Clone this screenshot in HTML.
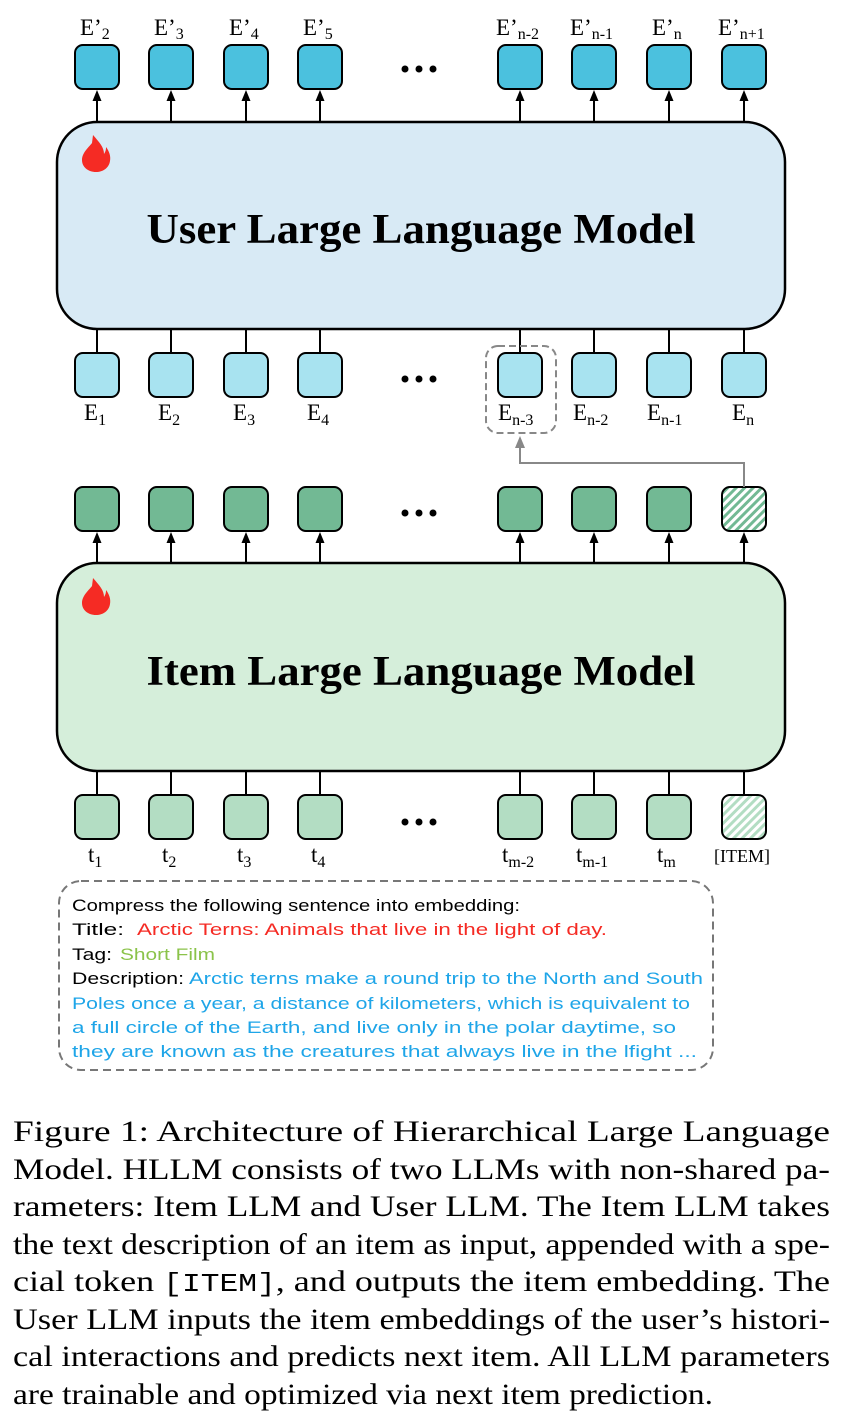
<!DOCTYPE html>
<html><head><meta charset="utf-8"><style>
html,body{margin:0;padding:0;background:#fff;}
svg{display:block;}
</style></head><body>
<svg width="851" height="1424" viewBox="0 0 851 1424" xmlns="http://www.w3.org/2000/svg">
<defs>
<pattern id="h1" patternUnits="userSpaceOnUse" width="6" height="6" patternTransform="rotate(45)">
<rect width="6" height="6" fill="#fff"/><rect width="3" height="6" fill="#72b994"/>
</pattern>
<pattern id="h2" patternUnits="userSpaceOnUse" width="6" height="6" patternTransform="rotate(45)">
<rect width="6" height="6" fill="#fff"/><rect width="3" height="6" fill="#b3ddc3"/>
</pattern>
<path id="tri" d="M-4.5,11 L0,0 L4.5,11 Z"/>
</defs>

<rect x="57" y="122" width="728" height="207" rx="40" fill="#d8eaf5" stroke="#000" stroke-width="2.5"/>
<text x="421" y="243" font-family="Liberation Serif, serif" font-weight="bold" font-size="42" text-anchor="middle" textLength="549" lengthAdjust="spacingAndGlyphs">User Large Language Model</text>
<path d="M93,135 C99,142 104,147 104,154 C106,151 106,149 106,147 C109,151 111,156 110,161 C109,168 103,172 96,172 C88,172 82,167 82,160 C82,153 88,148 92,143 Z" fill="#f52b24"/>

<rect x="57" y="563" width="728" height="208" rx="40" fill="#d5eeda" stroke="#000" stroke-width="2.5"/>
<text x="421" y="685" font-family="Liberation Serif, serif" font-weight="bold" font-size="42" text-anchor="middle" textLength="549" lengthAdjust="spacingAndGlyphs">Item Large Language Model</text>
<path d="M93,578 C99,585 104,590 104,597 C106,594 106,592 106,590 C109,594 111,599 110,604 C109,611 103,615 96,615 C88,615 82,610 82,603 C82,596 88,591 92,586 Z" fill="#f52b24"/>

<g stroke="#000" stroke-width="2">
<line x1="97" y1="121" x2="97" y2="98"/>
<line x1="171" y1="121" x2="171" y2="98"/>
<line x1="246" y1="121" x2="246" y2="98"/>
<line x1="320" y1="121" x2="320" y2="98"/>
<line x1="520" y1="121" x2="520" y2="98"/>
<line x1="594" y1="121" x2="594" y2="98"/>
<line x1="669" y1="121" x2="669" y2="98"/>
<line x1="744" y1="121" x2="744" y2="98"/>
<line x1="97" y1="329" x2="97" y2="353"/>
<line x1="171" y1="329" x2="171" y2="353"/>
<line x1="246" y1="329" x2="246" y2="353"/>
<line x1="320" y1="329" x2="320" y2="353"/>
<line x1="520" y1="329" x2="520" y2="353"/>
<line x1="594" y1="329" x2="594" y2="353"/>
<line x1="669" y1="329" x2="669" y2="353"/>
<line x1="744" y1="329" x2="744" y2="353"/>
<line x1="97" y1="562" x2="97" y2="540"/>
<line x1="171" y1="562" x2="171" y2="540"/>
<line x1="246" y1="562" x2="246" y2="540"/>
<line x1="320" y1="562" x2="320" y2="540"/>
<line x1="520" y1="562" x2="520" y2="540"/>
<line x1="594" y1="562" x2="594" y2="540"/>
<line x1="669" y1="562" x2="669" y2="540"/>
<line x1="744" y1="562" x2="744" y2="540"/>
<line x1="97" y1="771" x2="97" y2="795"/>
<line x1="171" y1="771" x2="171" y2="795"/>
<line x1="246" y1="771" x2="246" y2="795"/>
<line x1="320" y1="771" x2="320" y2="795"/>
<line x1="520" y1="771" x2="520" y2="795"/>
<line x1="594" y1="771" x2="594" y2="795"/>
<line x1="669" y1="771" x2="669" y2="795"/>
<line x1="744" y1="771" x2="744" y2="795"/>
</g>
<g fill="#000">
<use href="#tri" x="97" y="90"/><use href="#tri" x="171" y="90"/><use href="#tri" x="246" y="90"/><use href="#tri" x="320" y="90"/>
<use href="#tri" x="520" y="90"/><use href="#tri" x="594" y="90"/><use href="#tri" x="669" y="90"/><use href="#tri" x="744" y="90"/>
<use href="#tri" x="97" y="532"/><use href="#tri" x="171" y="532"/><use href="#tri" x="246" y="532"/><use href="#tri" x="320" y="532"/>
<use href="#tri" x="520" y="532"/><use href="#tri" x="594" y="532"/><use href="#tri" x="669" y="532"/><use href="#tri" x="744" y="532"/>
</g>

<g fill="#4bc1de" stroke="#000" stroke-width="2">
<rect x="75" y="45" width="44" height="44" rx="8"/>
<rect x="149" y="45" width="44" height="44" rx="8"/>
<rect x="224" y="45" width="44" height="44" rx="8"/>
<rect x="298" y="45" width="44" height="44" rx="8"/>
<rect x="498" y="45" width="44" height="44" rx="8"/>
<rect x="572" y="45" width="44" height="44" rx="8"/>
<rect x="647" y="45" width="44" height="44" rx="8"/>
<rect x="722" y="45" width="44" height="44" rx="8"/>
</g>
<g fill="#a8e3f0" stroke="#000" stroke-width="2">
<rect x="75" y="353" width="44" height="44" rx="8"/>
<rect x="149" y="353" width="44" height="44" rx="8"/>
<rect x="224" y="353" width="44" height="44" rx="8"/>
<rect x="298" y="353" width="44" height="44" rx="8"/>
<rect x="498" y="353" width="44" height="44" rx="8"/>
<rect x="572" y="353" width="44" height="44" rx="8"/>
<rect x="647" y="353" width="44" height="44" rx="8"/>
<rect x="722" y="353" width="44" height="44" rx="8"/>
</g>
<g fill="#72b994" stroke="#000" stroke-width="2">
<rect x="75" y="487" width="44" height="44" rx="8"/>
<rect x="149" y="487" width="44" height="44" rx="8"/>
<rect x="224" y="487" width="44" height="44" rx="8"/>
<rect x="298" y="487" width="44" height="44" rx="8"/>
<rect x="498" y="487" width="44" height="44" rx="8"/>
<rect x="572" y="487" width="44" height="44" rx="8"/>
<rect x="647" y="487" width="44" height="44" rx="8"/>
<rect x="722" y="487" width="44" height="44" rx="8" fill="url(#h1)"/>
</g>
<g fill="#b3ddc3" stroke="#000" stroke-width="2">
<rect x="75" y="795" width="44" height="44" rx="8"/>
<rect x="149" y="795" width="44" height="44" rx="8"/>
<rect x="224" y="795" width="44" height="44" rx="8"/>
<rect x="298" y="795" width="44" height="44" rx="8"/>
<rect x="498" y="795" width="44" height="44" rx="8"/>
<rect x="572" y="795" width="44" height="44" rx="8"/>
<rect x="647" y="795" width="44" height="44" rx="8"/>
<rect x="722" y="795" width="44" height="44" rx="8" fill="url(#h2)"/>
</g>

<g fill="#000">
<circle cx="405" cy="69" r="3.5"/><circle cx="419" cy="69" r="3.5"/><circle cx="433" cy="69" r="3.5"/>
<circle cx="405" cy="379" r="3.5"/><circle cx="419" cy="379" r="3.5"/><circle cx="433" cy="379" r="3.5"/>
<circle cx="405" cy="513" r="3.5"/><circle cx="419" cy="513" r="3.5"/><circle cx="433" cy="513" r="3.5"/>
<circle cx="405" cy="822" r="3.5"/><circle cx="419" cy="822" r="3.5"/><circle cx="433" cy="822" r="3.5"/>
</g>

<rect x="486" y="346" width="70" height="87" rx="12" fill="none" stroke="#888" stroke-width="2" stroke-dasharray="7,4"/>
<polyline points="744,487 744,463 520,463 520,446" fill="none" stroke="#888" stroke-width="2"/>
<path d="M515,448 L520,436 L525,448 Z" fill="#888"/>

<g font-family="Liberation Serif, serif" font-size="23" fill="#000">
<text x="80" y="35">E’<tspan font-size="16" dy="4">2</tspan></text>
<text x="154" y="35">E’<tspan font-size="16" dy="4">3</tspan></text>
<text x="229" y="35">E’<tspan font-size="16" dy="4">4</tspan></text>
<text x="303" y="35">E’<tspan font-size="16" dy="4">5</tspan></text>
<text x="496" y="35">E’<tspan font-size="16" dy="4">n-2</tspan></text>
<text x="570" y="35">E’<tspan font-size="16" dy="4">n-1</tspan></text>
<text x="652" y="35">E’<tspan font-size="16" dy="4">n</tspan></text>
<text x="718" y="35">E’<tspan font-size="16" dy="4">n+1</tspan></text>

<text x="84" y="420">E<tspan font-size="16" dy="5">1</tspan></text>
<text x="158" y="420">E<tspan font-size="16" dy="5">2</tspan></text>
<text x="233" y="420">E<tspan font-size="16" dy="5">3</tspan></text>
<text x="307" y="420">E<tspan font-size="16" dy="5">4</tspan></text>
<text x="498" y="420">E<tspan font-size="16" dy="5">n-3</tspan></text>
<text x="573" y="420">E<tspan font-size="16" dy="5">n-2</tspan></text>
<text x="647" y="420">E<tspan font-size="16" dy="5">n-1</tspan></text>
<text x="732" y="420">E<tspan font-size="16" dy="5">n</tspan></text>

<text x="88" y="862">t<tspan font-size="16" dy="5">1</tspan></text>
<text x="162" y="862">t<tspan font-size="16" dy="5">2</tspan></text>
<text x="237" y="862">t<tspan font-size="16" dy="5">3</tspan></text>
<text x="311" y="862">t<tspan font-size="16" dy="5">4</tspan></text>
<text x="502" y="862">t<tspan font-size="16" dy="5">m-2</tspan></text>
<text x="576" y="862">t<tspan font-size="16" dy="5">m-1</tspan></text>
<text x="657" y="862">t<tspan font-size="16" dy="5">m</tspan></text>
<text x="714" y="862" font-size="18">[ITEM]</text>
</g>

<rect x="59" y="881" width="654" height="189" rx="22" fill="none" stroke="#777" stroke-width="2" stroke-dasharray="8,5"/>
<g font-family="Liberation Sans, sans-serif" font-size="17">
<text x="72" y="911" fill="#000" textLength="448" lengthAdjust="spacingAndGlyphs">Compress the following sentence into embedding:</text>
<text x="72" y="935" fill="#000" textLength="52" lengthAdjust="spacingAndGlyphs">Title:</text>
<text x="137" y="935" fill="#f52b24" textLength="470" lengthAdjust="spacingAndGlyphs">Arctic Terns: Animals that live in the light of day.</text>
<text x="72" y="960" fill="#000" textLength="40" lengthAdjust="spacingAndGlyphs">Tag:</text>
<text x="120" y="960" fill="#8bc34a" textLength="95" lengthAdjust="spacingAndGlyphs">Short Film</text>
<text x="72" y="984" fill="#000" textLength="112" lengthAdjust="spacingAndGlyphs">Description:</text>
<text x="189" y="984" fill="#1ea5e8" textLength="514" lengthAdjust="spacingAndGlyphs">Arctic terns make a round trip to the North and South</text>
<text x="72" y="1009" fill="#1ea5e8" textLength="618" lengthAdjust="spacingAndGlyphs">Poles once a year, a distance of kilometers, which is equivalent to</text>
<text x="72" y="1033" fill="#1ea5e8" textLength="604" lengthAdjust="spacingAndGlyphs">a full circle of the Earth, and live only in the polar daytime, so</text>
<text x="72" y="1057" fill="#1ea5e8" textLength="625" lengthAdjust="spacingAndGlyphs">they are known as the creatures that always live in the lfight ...</text>
</g>

<g font-family="Liberation Serif, serif" font-size="30" fill="#000">
<text x="13" y="1141" textLength="817" lengthAdjust="spacingAndGlyphs">Figure 1: Architecture of Hierarchical Large Language</text>
<text x="13" y="1179" textLength="817" lengthAdjust="spacingAndGlyphs">Model. HLLM consists of two LLMs with non-shared pa-</text>
<text x="13" y="1216" textLength="817" lengthAdjust="spacingAndGlyphs">rameters: Item LLM and User LLM. The Item LLM takes</text>
<text x="13" y="1254" textLength="817" lengthAdjust="spacingAndGlyphs">the text description of an item as input, appended with a spe-</text>
<text x="13" y="1291" textLength="817" lengthAdjust="spacingAndGlyphs">cial token <tspan font-family="Liberation Mono, monospace" font-size="26">[ITEM]</tspan>, and outputs the item embedding. The</text>
<text x="13" y="1329" textLength="817" lengthAdjust="spacingAndGlyphs">User LLM inputs the item embeddings of the user’s histori-</text>
<text x="13" y="1366" textLength="817" lengthAdjust="spacingAndGlyphs">cal interactions and predicts next item. All LLM parameters</text>
<text x="13" y="1404" textLength="700" lengthAdjust="spacingAndGlyphs">are trainable and optimized via next item prediction.</text>
</g>
</svg>
</body></html>
